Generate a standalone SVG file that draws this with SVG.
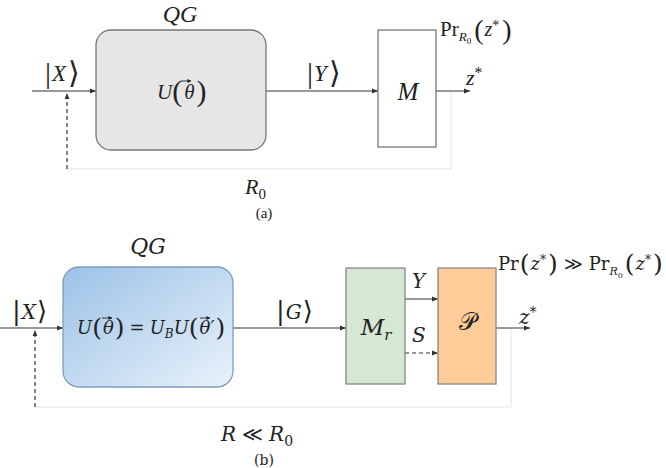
<svg xmlns="http://www.w3.org/2000/svg" width="666" height="468" viewBox="0 0 666 468">
<defs>
<style>
.m{font-style:italic;}
.ln{stroke:#333;stroke-width:1.2;fill:none;}
.dash{stroke:#333;stroke-width:1.2;fill:none;stroke-dasharray:4,3;}
.dot{stroke:#c8c8c8;stroke-width:1;fill:none;stroke-dasharray:1,1;}
.box{stroke:#777;stroke-width:1.3;}
.vec{stroke:#222;stroke-width:0.9;fill:none;}
</style>
<marker id="ah" viewBox="0 0 10 10" refX="10" refY="5" markerWidth="6" markerHeight="6" markerUnits="userSpaceOnUse" orient="auto">
<path d="M0,1 L10,5 L0,9 z" fill="#333"/>
</marker>
<marker id="va" viewBox="0 0 10 10" refX="9" refY="5" markerWidth="4" markerHeight="4" markerUnits="userSpaceOnUse" orient="auto">
<path d="M0,0 L10,5 L0,10 z" fill="#222"/>
</marker>
<linearGradient id="blue" x1="0" y1="0" x2="1" y2="1">
<stop offset="0" stop-color="#9cc2e6"/>
<stop offset="1" stop-color="#e9f2fb"/>
</linearGradient>
</defs>

<g id="connectors">
<line class="ln" x1="32" y1="91" x2="96" y2="91" marker-end="url(#ah)"/>
<polyline class="dot" points="67,169 451,169 451,91"/>
<line class="dash" x1="67" y1="169" x2="67" y2="93" marker-end="url(#ah)"/>
<line class="ln" x1="266" y1="91" x2="378" y2="91" marker-end="url(#ah)"/>
<line class="ln" x1="436" y1="91" x2="470" y2="91" marker-end="url(#ah)"/>
<line class="ln" x1="0" y1="328" x2="63" y2="328" marker-end="url(#ah)"/>
<polyline class="dot" points="35,407 511,407 511,328"/>
<line class="dash" x1="35" y1="407" x2="35" y2="330" marker-end="url(#ah)"/>
<line class="ln" x1="233" y1="328" x2="346" y2="328" marker-end="url(#ah)"/>
<line class="ln" x1="405" y1="299" x2="438" y2="299" marker-end="url(#ah)"/>
<line class="dash" x1="405" y1="353" x2="438" y2="353" marker-end="url(#ah)"/>
<line class="ln" x1="496" y1="328" x2="530" y2="328" marker-end="url(#ah)"/>
</g>

<g font-family="Liberation Serif, serif" fill="#222">
<g id="qg-a">
<rect class="box" x="96" y="30" width="170" height="120" rx="15" fill="#e6e6e6"/>
<text class="m" x="180" y="22" font-size="24" text-anchor="middle">QG</text>
<text x="157" y="99" font-size="21"><tspan class="m">U</tspan><tspan font-size="30" dy="2">(</tspan><tspan class="m" dx="2" dy="-2">θ</tspan><tspan font-size="30" dx="2" dy="2">)</tspan></text>
<line class="vec" x1="181" y1="81" x2="191" y2="81" marker-end="url(#va)"/>
</g>

<g id="m-a">
<rect class="box" x="378" y="30" width="58" height="117" fill="#ffffff"/>
<text class="m" x="408" y="100" font-size="25" text-anchor="middle">M</text>
</g>

<g id="labels-a">
<text x="45" y="83" font-size="23"><tspan font-size="30">|</tspan><tspan class="m" dx="1" dy="-2">X</tspan><tspan font-size="30" dx="2" dy="2">⟩</tspan></text>
<text x="307" y="83" font-size="23"><tspan font-size="30">|</tspan><tspan class="m" dx="1" dy="-2">Y</tspan><tspan font-size="30" dx="2" dy="2">⟩</tspan></text>
<text x="440" y="36" font-size="21">Pr<tspan class="m" font-size="13" dy="5">R</tspan><tspan font-size="9" dy="3">0</tspan><tspan font-size="28" dx="3" dy="-5">(</tspan><tspan class="m" font-size="20" dx="1" dy="-3">z</tspan><tspan font-size="14" dy="-6">*</tspan><tspan font-size="28" dx="3" dy="9">)</tspan></text>
<text class="m" x="466" y="85" font-size="22">z<tspan font-size="16" dy="-7" font-style="normal">*</tspan></text>
<text class="m" x="245" y="194" font-size="22">R<tspan font-size="15" dy="5" font-style="normal">0</tspan></text>
<text x="264" y="218" font-size="15" text-anchor="middle">(a)</text>
</g>
</g>

<g font-family="DejaVu Serif, serif" fill="#222">
<g id="qg-b">
<rect x="63" y="267" width="170" height="120" rx="16" fill="url(#blue)" stroke="#7f9cbc" stroke-width="1.3"/>
<text class="m" x="148" y="254" font-size="22" text-anchor="middle">QG</text>
<text x="77" y="334" font-size="18"><tspan class="m">U</tspan><tspan font-size="25" dy="2">(</tspan><tspan class="m" dx="1" dy="-2">θ</tspan><tspan font-size="25" dx="1" dy="2">)</tspan><tspan dx="5" dy="-2">=</tspan><tspan class="m" dx="5">U</tspan><tspan class="m" font-size="12" dy="4">B</tspan><tspan class="m" dy="-4">U</tspan><tspan font-size="25" dy="2">(</tspan><tspan class="m" dx="1" dy="-2">θ′</tspan><tspan font-size="25" dx="1" dy="2">)</tspan></text>
<line class="vec" x1="102" y1="318" x2="112" y2="318" marker-end="url(#va)"/>
<line class="vec" x1="200" y1="318" x2="210" y2="318" marker-end="url(#va)"/>
</g>

<g id="mr-b">
<rect x="346" y="268" width="59" height="116" fill="#d5e8d4" stroke="#888" stroke-width="1.3"/>
<text class="m" x="376" y="335" font-size="23" text-anchor="middle">M<tspan font-size="15" dy="5">r</tspan></text>
</g>

<g id="p-b">
<rect x="438" y="268" width="58" height="116" fill="#ffcc99" stroke="#888" stroke-width="1.3"/>
<text x="467" y="330" font-size="24" text-anchor="middle">𝒫</text>
</g>

<g id="labels-b">
<text x="12" y="320" font-size="20"><tspan font-size="26">|</tspan><tspan class="m" dx="1" dy="-1">X</tspan><tspan font-size="26" dx="1" dy="1">⟩</tspan></text>
<text x="276" y="320" font-size="20"><tspan font-size="26">|</tspan><tspan class="m" dx="1" dy="-1">G</tspan><tspan font-size="26" dx="1" dy="1">⟩</tspan></text>
<text class="m" x="412" y="288" font-size="20">Y</text>
<text class="m" x="412" y="342" font-size="20">S</text>
<text class="m" x="519" y="324" font-size="20">z<tspan font-size="14" dy="-7" font-style="normal">*</tspan></text>
<text x="498" y="270" font-size="18">Pr<tspan font-size="25" dx="1" dy="2">(</tspan><tspan class="m" dx="1" dy="-2">z</tspan><tspan font-size="12" dy="-6">*</tspan><tspan font-size="25" dx="2" dy="8">)</tspan><tspan dx="6" dy="-2">≫</tspan><tspan dx="6">Pr</tspan><tspan class="m" font-size="11" dy="5">R</tspan><tspan font-size="8" dy="3">0</tspan><tspan font-size="25" dx="2" dy="-6">(</tspan><tspan class="m" dx="1" dy="-2">z</tspan><tspan font-size="12" dy="-6">*</tspan><tspan font-size="25" dx="2" dy="8">)</tspan></text>
<text class="m" x="221" y="441" font-size="20">R<tspan font-style="normal" dx="6">≪</tspan><tspan dx="6">R</tspan><tspan font-size="14" dy="5" font-style="normal">0</tspan></text>
<text x="264" y="465" font-size="14" text-anchor="middle">(b)</text>
</g>
</g>
</svg>
